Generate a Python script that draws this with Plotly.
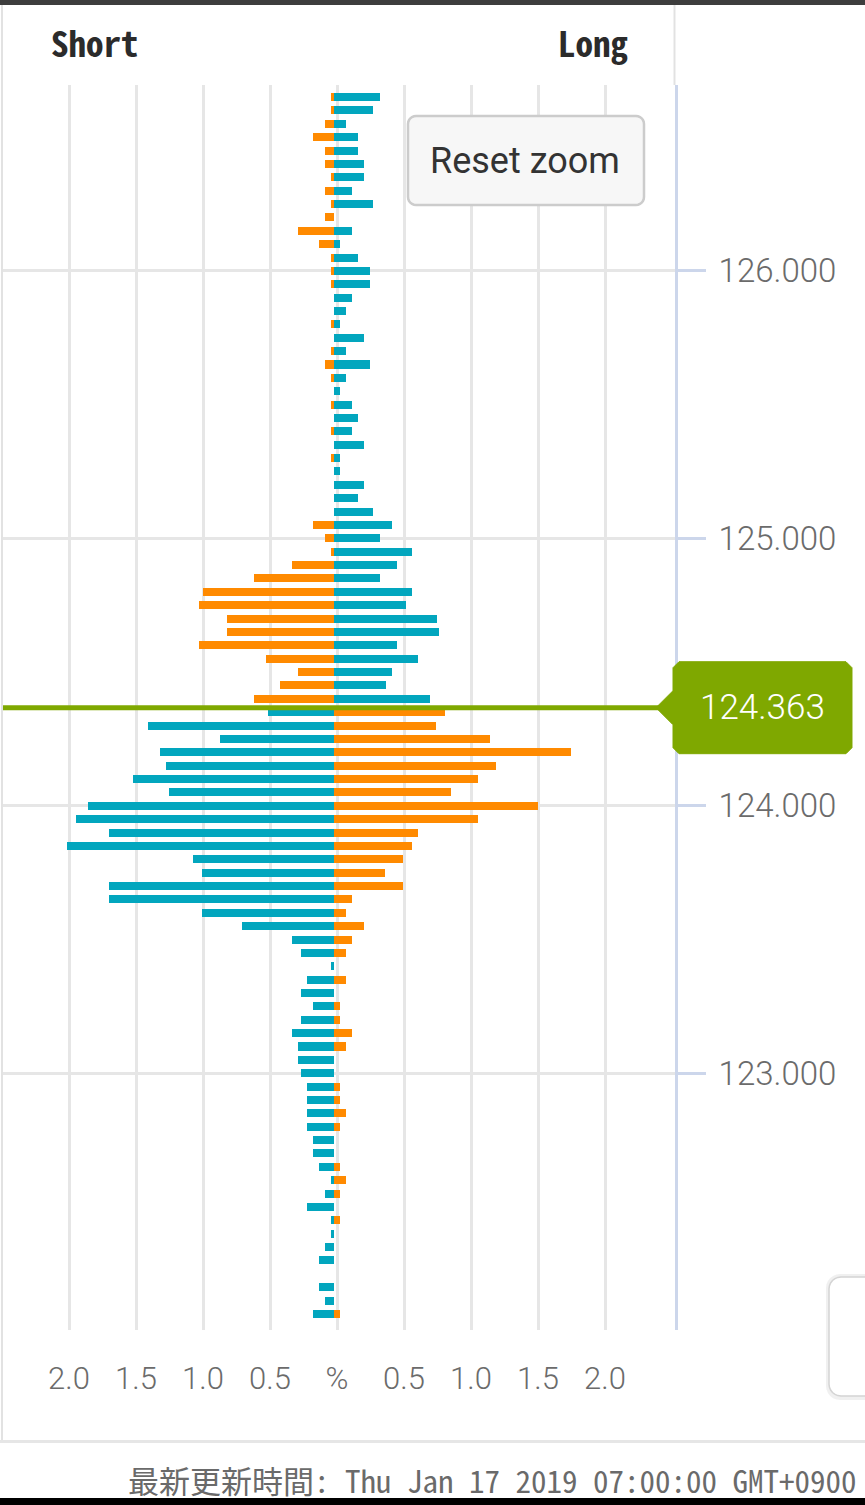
import plotly.graph_objects as go

# ---------------- data ----------------
price_levels = [
    126.65, 126.60, 126.55, 126.50, 126.45, 126.40, 126.35, 126.30, 126.25, 126.20,
    126.15, 126.10, 126.05, 126.00, 125.95, 125.90, 125.85, 125.80, 125.75, 125.70,
    125.65, 125.60, 125.55, 125.50, 125.45, 125.40, 125.35, 125.30, 125.25, 125.20,
    125.15, 125.10, 125.05, 125.00, 124.95, 124.90, 124.85, 124.80, 124.75, 124.70,
    124.65, 124.60, 124.55, 124.50, 124.45, 124.40, 124.35, 124.30, 124.25, 124.20,
    124.15, 124.10, 124.05, 124.00, 123.95, 123.90, 123.85, 123.80, 123.75, 123.70,
    123.65, 123.60, 123.55, 123.50, 123.45, 123.40, 123.35, 123.30, 123.25, 123.20,
    123.15, 123.10, 123.05, 123.00, 122.95, 122.90, 122.85, 122.80, 122.75, 122.70,
    122.65, 122.60, 122.55, 122.50, 122.45, 122.40, 122.35, 122.30, 122.25, 122.20,
    122.15, 122.10,
]
short_pct = [
    0.02, 0.02, 0.065, 0.155, 0.065, 0.065, 0.02, 0.065, 0.02, 0.065,
    0.265, 0.11, 0.02, 0.02, 0.02, 0.0, 0.0, 0.02, 0.0, 0.02,
    0.065, 0.02, 0.0, 0.02, 0.0, 0.02, 0.0, 0.02, 0.0, 0.0,
    0.0, 0.0, 0.155, 0.065, 0.02, 0.31, 0.60, 0.98, 1.005, 0.80,
    0.80, 1.005, 0.51, 0.265, 0.40, 0.60, 0.495, 1.39, 0.85, 1.30,
    1.255, 1.50, 1.23, 1.835, 1.925, 1.68, 1.99, 1.05, 0.985, 1.68,
    1.68, 0.985, 0.69, 0.31, 0.245, 0.02, 0.20, 0.245, 0.155, 0.245,
    0.31, 0.265, 0.265, 0.245, 0.20, 0.20, 0.20, 0.20, 0.155, 0.155,
    0.11, 0.02, 0.065, 0.20, 0.02, 0.02, 0.065, 0.11, 0.0, 0.11,
    0.065, 0.155,
]
long_pct = [
    0.34, 0.29, 0.09, 0.18, 0.18, 0.225, 0.225, 0.135, 0.29, 0.0,
    0.135, 0.045, 0.18, 0.27, 0.27, 0.135, 0.09, 0.045, 0.225, 0.09,
    0.27, 0.09, 0.045, 0.135, 0.18, 0.135, 0.225, 0.045, 0.045, 0.225,
    0.18, 0.29, 0.43, 0.34, 0.585, 0.47, 0.34, 0.585, 0.54, 0.765,
    0.785, 0.47, 0.63, 0.43, 0.385, 0.72, 0.83, 0.76, 1.165, 1.77,
    1.21, 1.075, 0.87, 1.52, 1.075, 0.625, 0.585, 0.515, 0.38, 0.515,
    0.135, 0.09, 0.225, 0.135, 0.09, 0.0, 0.09, 0.0, 0.045, 0.045,
    0.135, 0.09, 0.0, 0.0, 0.045, 0.045, 0.09, 0.045, 0.0, 0.0,
    0.045, 0.09, 0.045, 0.0, 0.045, 0.0, 0.0, 0.0, 0.0, 0.0,
    0.0, 0.045,
]
current_price = 124.363
x_tick_vals = [-2.0, -1.5, -1.0, -0.5, 0.0, 0.5, 1.0, 1.5, 2.0]
x_tick_text = ["2.0", "1.5", "1.0", "0.5", "%", "0.5", "1.0", "1.5", "2.0"]
y_tick_vals = [123, 124, 125, 126]
header_short = "Short"
header_long = "Long"
button_text = "Reset zoom"
footer_text = "最新更新時間: Thu Jan 17 2019 07:00:00 GMT+0900"

# ---------------- style ----------------
W, H = 865, 1505
ML, MR, MT, MB = 2, 190, 85, 175
X_RANGE = [-2.5, 2.5224]
Y_RANGE = [122.04, 126.695]
BAR_BASE = -0.0224
BAR_WIDTH = 0.03
TEAL = "#02a6be"
ORANGE = "#ff8a00"
GREEN = "#7fa800"
GRID = "#e6e6e6"
AXIS = "#ccd6eb"
LABEL = "#6b6b6b"
X_TICK_FONT = dict(family="Roboto, Noto Sans, sans-serif", size=31, color=LABEL, weight=300)
Y_TICK_FONT = dict(family="Roboto, Noto Sans, sans-serif", size=33, color=LABEL, weight=300)
MONO = "Noto Sans Mono CJK JP, Noto Sans Mono CJK TC, Noto Sans CJK JP, DejaVu Sans Mono, monospace"

PW = W - ML - MR
PH = H - MT - MB


def px(X):
    return (X - ML) / PW


def py(Y):
    return (H - MB - Y) / PH


def price_to_pixel(v):
    return (H - MB) - (v - Y_RANGE[0]) / (Y_RANGE[1] - Y_RANGE[0]) * PH


def path_from(points, close=True):
    s = "M " + " L ".join(f"{px(x):.5f},{py(y):.5f}" for x, y in points)
    return s + (" Z" if close else "")


def rounded_rect(x0, y0, x1, y1, r, n=6):
    import math
    pts = []
    corners = [(x1 - r, y0 + r, -90), (x1 - r, y1 - r, 0), (x0 + r, y1 - r, 90), (x0 + r, y0 + r, 180)]
    for cx, cy, a0 in corners:
        for i in range(n + 1):
            a = math.radians(a0 + 90 * i / n)
            pts.append((cx + r * math.cos(a), cy + r * math.sin(a)))
    return path_from(pts)


short_colors = [ORANGE if p > current_price else TEAL for p in price_levels]
long_colors = [TEAL if p > current_price else ORANGE for p in price_levels]

fig = go.Figure()
fig.add_trace(go.Bar(
    y=price_levels, x=[-v for v in short_pct], base=BAR_BASE, orientation="h",
    width=BAR_WIDTH, marker=dict(color=short_colors, line=dict(width=0)),
    name="Short", hoverinfo="skip",
))
fig.add_trace(go.Bar(
    y=price_levels, x=long_pct, base=BAR_BASE, orientation="h",
    width=BAR_WIDTH, marker=dict(color=long_colors, line=dict(width=0)),
    name="Long", hoverinfo="skip",
))

shapes = []
# device / card chrome
shapes.append(dict(type="rect", xref="paper", yref="paper", x0=px(0), x1=px(W), y0=py(0), y1=py(5),
                   fillcolor="#3d3d3d", line=dict(width=0), layer="above"))
shapes.append(dict(type="rect", xref="paper", yref="paper", x0=px(0), x1=px(W), y0=py(1498), y1=py(H),
                   fillcolor="#000000", line=dict(width=0), layer="above"))
shapes.append(dict(type="line", xref="paper", yref="paper", x0=px(2), x1=px(2), y0=py(5), y1=py(1441),
                   line=dict(color="#e2e2e2", width=2), layer="above"))
shapes.append(dict(type="line", xref="paper", yref="paper", x0=px(674.5), x1=px(674.5), y0=py(5), y1=py(85),
                   line=dict(color="#e2e2e2", width=2), layer="above"))
shapes.append(dict(type="line", xref="paper", yref="paper", x0=px(0), x1=px(W), y0=py(1441.5), y1=py(1441.5),
                   line=dict(color="#e6e6e6", width=3), layer="above"))
# reset zoom button
shapes.append(dict(type="path", xref="paper", yref="paper", path=rounded_rect(408, 116, 644, 205, 8),
                   fillcolor="#f7f7f7", line=dict(color="#cccccc", width=2.5), layer="above"))
# bottom-right floating box (shadow + box)
shapes.append(dict(type="path", xref="paper", yref="paper", path=rounded_rect(826, 1274, 900, 1400, 14),
                   fillcolor="rgba(0,0,0,0.06)", line=dict(width=0), layer="above"))
shapes.append(dict(type="path", xref="paper", yref="paper", path=rounded_rect(829, 1277, 900, 1396, 12),
                   fillcolor="#ffffff", line=dict(color="#d4d4d4", width=1.5), layer="above"))
# current price line + label
yc = price_to_pixel(current_price) - 1
shapes.append(dict(type="line", xref="paper", yref="paper", x0=px(3), x1=px(662), y0=py(yc), y1=py(yc),
                   line=dict(color=GREEN, width=5), layer="above"))
r = 6
label_pts = [(673, yc - 17), (673, yc - 46 + r), (673 + r, yc - 46), (852 - r, yc - 46), (852, yc - 46 + r),
             (852, yc + 46 - r), (852 - r, yc + 46), (673 + r, yc + 46), (673, yc + 46 - r), (673, yc + 17),
             (656, yc)]
shapes.append(dict(type="path", xref="paper", yref="paper", path=path_from(label_pts),
                   fillcolor=GREEN, line=dict(color=GREEN, width=1), layer="above"))

annotations = [
    dict(text=header_short, xref="paper", yref="paper", x=px(49), y=py(41), xanchor="left", yanchor="middle",
         showarrow=False, font=dict(family=MONO, size=35, color="#2b2b2b", weight="bold")),
    dict(text=header_long, xref="paper", yref="paper", x=px(630), y=py(41), xanchor="right", yanchor="middle",
         showarrow=False, font=dict(family=MONO, size=35, color="#2b2b2b", weight="bold")),
    dict(text=button_text, xref="paper", yref="paper", x=px(525), y=py(161), xanchor="center", yanchor="middle",
         showarrow=False, font=dict(family="Roboto, sans-serif", size=36, color="#333333")),
    dict(text=f"{current_price:.3f}", xref="paper", yref="paper", x=px(762), y=py(yc), xanchor="center",
         yanchor="middle", showarrow=False,
         font=dict(family="Roboto, sans-serif", size=35, color="#ffffff", weight=300)),
    dict(text=footer_text, xref="paper", yref="paper", x=px(126), y=py(1479), xanchor="left", yanchor="middle",
         showarrow=False, font=dict(family=MONO, size=31, color="#6a6a6a")),
]

fig.update_layout(
    width=W, height=H,
    margin=dict(l=ML, r=MR, t=MT, b=MB, pad=0),
    paper_bgcolor="#ffffff", plot_bgcolor="#ffffff",
    barmode="overlay", showlegend=False, bargap=0,
    shapes=shapes, annotations=annotations,
    xaxis=dict(
        range=X_RANGE, tickvals=x_tick_vals, ticktext=x_tick_text,
        showgrid=True, gridcolor=GRID, gridwidth=3, zeroline=False,
        showline=False, ticks="", tickfont=X_TICK_FONT, ticklabelstandoff=27, fixedrange=True,
    ),
    yaxis=dict(
        range=Y_RANGE, tickvals=y_tick_vals, tickformat=".3f", side="right",
        showgrid=True, gridcolor=GRID, gridwidth=3, zeroline=False,
        showline=True, linecolor=AXIS, linewidth=3, ticks="outside", ticklen=28, tickwidth=3,
        tickcolor=AXIS, tickfont=Y_TICK_FONT, ticklabelstandoff=6, fixedrange=True,
    ),
)

fig.write_html("out.html", config={"displayModeBar": False, "staticPlot": True},
               post_script="document.body.style.margin='0';document.body.style.overflow='hidden';")
